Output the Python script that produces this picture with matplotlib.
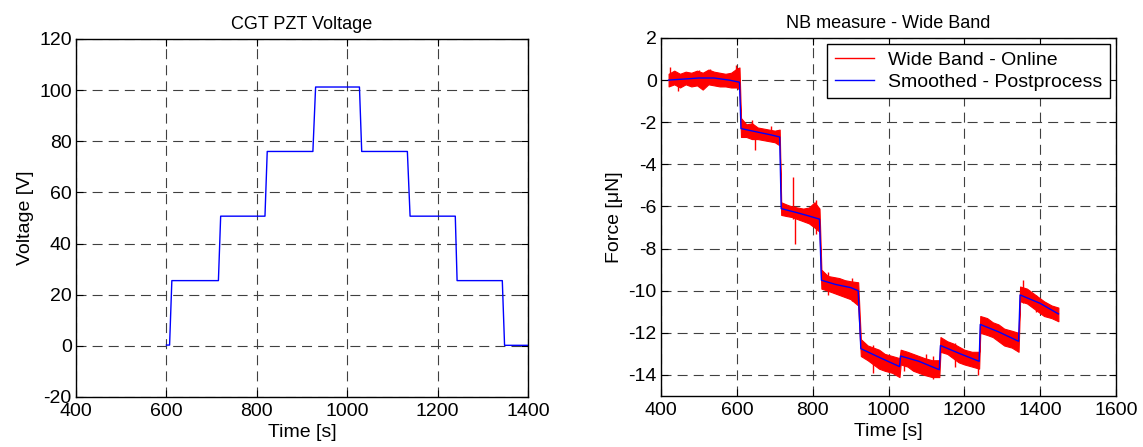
import matplotlib
matplotlib.use("Agg")
import matplotlib.pyplot as plt
from matplotlib.lines import Line2D

plt.rcParams['font.family'] = ['Liberation Sans', 'DejaVu Sans']
plt.rcParams['axes.unicode_minus'] = False

# ---------------- Left: CGT PZT Voltage ----------------
volt_t = [600, 607, 612, 715, 720, 818, 823, 924, 930, 1027, 1032, 1133, 1139, 1239, 1243, 1343, 1348, 1400]
volt_v = [0.3, 0.3, 25.5, 25.5, 50.7, 50.7, 76.0, 76.0, 101.2, 101.2, 76.0, 76.0, 50.7, 50.7, 25.5, 25.5, 0.2, 0.2]

# ---------------- Right: NB measure - Wide Band ----------------
# smoothed (blue) curve breakpoints
smooth_t = [420, 460, 500, 540, 580, 607, 611, 650, 690, 713, 717, 760, 790, 818, 823, 860, 900, 920,
            927, 980, 1029, 1032, 1080, 1134, 1137, 1190, 1239, 1242, 1290, 1343, 1347, 1400, 1448]
smooth_v = [0.0, 0.05, 0.1, 0.1, 0.0, -0.1, -2.3, -2.45, -2.6, -2.7, -6.1, -6.3, -6.45, -6.6, -9.5, -9.7,
            -9.85, -10.0, -12.75, -13.2, -13.6, -13.1, -13.35, -13.75, -12.6, -13.0, -13.35, -11.6, -11.95,
            -12.4, -10.2, -10.6, -11.1]

# wide-band (red) envelope
wb_t = [420, 435, 450, 465, 480, 495, 510, 525, 540, 555, 570, 585, 600, 607,
        611, 625, 640, 655, 670, 685, 700, 713,
        717, 730, 745, 760, 775, 790, 805, 818,
        823, 840, 855, 870, 885, 900, 920,
        927, 945, 960, 975, 990, 1010, 1029,
        1032, 1050, 1065, 1080, 1095, 1115, 1134,
        1137, 1155, 1170, 1185, 1200, 1220, 1239,
        1242, 1260, 1275, 1290, 1305, 1325, 1343,
        1347, 1365, 1380, 1395, 1410, 1430, 1448]
wb_hi = [0.3, 0.45, 0.3, 0.4, 0.35, 0.45, 0.35, 0.5, 0.4, 0.35, 0.3, 0.35, 0.55, 0.6,
         -1.8, -2.1, -2.05, -2.25, -2.3, -2.35, -2.4, -2.35,
         -5.8, -5.9, -6.0, -6.05, -6.1, -6.05, -5.8, -6.1,
         -9.0, -9.3, -9.35, -9.4, -9.5, -9.55, -9.6,
         -12.3, -12.6, -12.7, -12.8, -13.0, -13.1, -13.2,
         -12.8, -12.9, -13.0, -13.1, -13.2, -13.3, -13.3,
         -12.2, -12.4, -12.5, -12.65, -12.8, -12.9, -12.9,
         -11.2, -11.3, -11.5, -11.6, -11.8, -11.9, -12.0,
         -9.8, -9.9, -10.1, -10.3, -10.5, -10.7, -10.8]
wb_lo = [-0.3, -0.2, -0.35, -0.2, -0.3, -0.25, -0.45, -0.2, -0.25, -0.3, -0.3, -0.35, -0.35, -0.45,
         -2.7, -2.7, -2.8, -2.8, -2.85, -2.9, -2.95, -3.1,
         -6.4, -6.45, -6.5, -6.6, -6.7, -6.8, -7.0, -7.2,
         -9.9, -10.0, -10.1, -10.2, -10.3, -10.4, -10.7,
         -13.1, -13.3, -13.5, -13.7, -13.8, -13.9, -14.1,
         -13.5, -13.6, -13.8, -13.9, -14.0, -14.1, -14.1,
         -12.9, -13.0, -13.2, -13.4, -13.5, -13.6, -13.7,
         -12.0, -12.1, -12.2, -12.4, -12.6, -12.7, -12.9,
         -10.5, -10.6, -10.8, -11.0, -11.2, -11.3, -11.45]

# isolated spikes in the wide-band signal
spike_t = [425, 445, 500, 530, 598, 640, 647, 690, 748, 753, 808, 840, 905, 960, 1040, 1100, 1118,
           1175, 1235, 1355, 1390]
spike_top = [0.6, 0.2, 0.5, 0.55, 0.7, -1.9, -2.6, -2.2, -4.6, -6.0, -5.7, -9.1, -9.4, -12.6, -12.9,
             -13.0, -13.1, -12.5, -13.0, -9.5, -10.2]
spike_bot = [-0.2, -0.5, -0.3, -0.1, -0.3, -2.6, -3.3, -2.9, -6.6, -7.8, -7.3, -10.2, -10.5, -13.9, -13.8,
             -14.0, -14.2, -13.6, -14.0, -10.6, -11.0]

fig = plt.figure(figsize=(11.43, 4.47), dpi=100)
ax1 = fig.add_axes([0.0665, 0.1119, 0.3955, 0.801])
ax2 = fig.add_axes([0.5783, 0.1140, 0.3981, 0.801])

grid_kw = dict(color='#404040', linewidth=0.8, linestyle=(0, (9, 5.5)))

def style(ax):
    ax.tick_params(direction='in', top=True, right=True, labelsize=14, length=5, width=0.8, colors='black')
    ax.tick_params(axis='x', pad=4)
    ax.tick_params(axis='y', pad=3)
    for s in ax.spines.values():
        s.set_linewidth(1.0)
        s.set_color('black')
    ax.grid(True, **grid_kw)
    ax.set_axisbelow(True)

ax1.plot(volt_t, volt_v, color='blue', linewidth=1.0)
ax1.set_xlim(400, 1400)
ax1.set_ylim(-20, 120)
ax1.set_xticks(range(400, 1401, 200))
ax1.set_yticks(range(-20, 121, 20))
ax1.set_title('CGT PZT Voltage', fontsize=13, pad=7)
ax1.set_xlabel('Time [s]', fontsize=14, labelpad=3)
ax1.set_ylabel('Voltage [V]', fontsize=14, labelpad=4)
style(ax1)

ax2.fill_between(wb_t, wb_lo, wb_hi, color='red', linewidth=0.8, edgecolor='red')
ax2.vlines(spike_t, spike_bot, spike_top, color='red', linewidth=1.0)
ax2.plot(smooth_t, smooth_v, color='blue', linewidth=1.0)
ax2.set_xlim(400, 1600)
ax2.set_ylim(-15, 2)
ax2.set_xticks(range(400, 1601, 200))
ax2.set_yticks(range(-14, 3, 2))
ax2.set_title('NB measure - Wide Band', fontsize=13, pad=7)
ax2.set_xlabel('Time [s]', fontsize=14, labelpad=3)
ax2.set_ylabel('Force [\u03bcN]', fontsize=14, labelpad=4)
style(ax2)

handles = [Line2D([], [], color='red', linewidth=1.0), Line2D([], [], color='blue', linewidth=1.0)]
leg = ax2.legend(handles, ['Wide Band - Online', 'Smoothed - Postprocess'], loc='upper right',
                 fontsize=14, fancybox=False, framealpha=1, edgecolor='black', borderaxespad=0.3,
                 handlelength=2.0, labelspacing=0.2, borderpad=0.4, handletextpad=0.75)
leg.get_frame().set_linewidth(1.0)

fig.savefig('out.png', dpi=100)
